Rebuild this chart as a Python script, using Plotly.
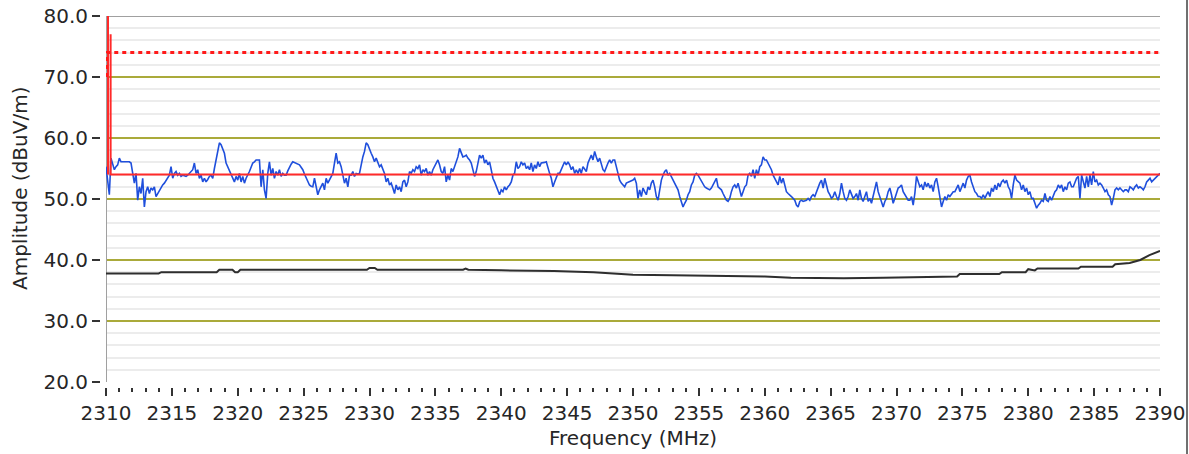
import numpy as np
import plotly.graph_objects as go

# Sweep span (MHz)
f_start, f_stop = 2310, 2390

# Measured emission trace (dBuV/m), one uniform sweep split into four spans
amp_2310_2330 = [
    55.3, 53.4, 50.7, 56.7, 55.9, 54.8, 55.3, 55.6, 56.7, 56.1,
    56.1, 56.1, 56.1, 56.1, 56.1, 55.9, 54.2, 52.6, 54.2, 49.8,
    52.0, 50.9, 53.4, 48.7, 51.2, 52.0, 50.9, 51.8, 51.5, 52.0,
    50.4, 50.9, 51.2, 51.8, 52.3, 52.6, 53.1, 53.4, 53.9, 55.3,
    53.4, 54.2, 54.5, 53.9, 54.2, 53.7, 53.9, 53.8, 53.7, 53.9,
    54.2, 54.5, 54.8, 55.9, 54.2, 54.8, 53.4, 53.9, 52.8, 53.4,
    52.8, 53.2, 53.7, 53.9, 53.4, 55.0, 56.4, 57.8, 59.2, 58.9,
    58.3, 57.5, 55.9, 55.3, 54.8, 54.1, 53.4, 52.8, 53.7, 53.1,
    54.2, 52.8, 53.7, 52.6, 53.4, 53.9, 54.5, 55.2, 55.9, 56.1,
    56.4, 56.4, 56.4, 52.0, 54.8, 51.5, 50.1, 54.2, 56.1, 53.9,
    55.0, 53.4, 54.5, 53.9, 54.8, 53.7, 54.2, 53.9, 53.9, 54.6,
    55.3, 55.7, 56.1, 56.0, 55.9, 55.7, 55.6, 55.2, 54.8, 54.1,
    53.4, 52.8, 52.3, 52.1, 52.0, 53.4, 52.0, 50.7, 51.5, 52.0,
    52.6, 51.5, 53.4, 52.6, 53.1, 53.7, 54.2, 55.9, 57.5, 55.9,
    56.1, 55.3, 54.2, 52.6, 53.4, 52.0, 53.9, 53.9, 54.5, 53.7,
    54.2, 54.1, 54.2, 55.9, 56.9, 57.8, 59.2, 58.9,
]
amp_2330_2350 = [
    58.0, 57.5, 56.9, 56.1, 56.7, 55.9, 55.3, 55.6, 54.8, 54.2,
    52.8, 53.4, 52.3, 52.6, 51.8, 50.9, 52.3, 51.5, 52.0, 51.2,
    52.8, 53.1, 52.0, 52.8, 54.5, 54.2, 54.8, 54.5, 55.3, 55.0,
    55.6, 53.9, 54.8, 54.5, 55.0, 53.9, 54.5, 53.9, 54.8, 55.3,
    55.9, 56.4, 55.6, 54.5, 54.2, 55.3, 52.8, 53.9, 53.1, 55.0,
    54.5, 55.2, 55.9, 56.9, 58.3, 57.5, 56.9, 57.0, 57.2, 56.7,
    56.4, 55.9, 54.5, 53.7, 54.5, 55.9, 57.2, 56.7, 57.2, 55.9,
    56.4, 55.6, 56.1, 54.8, 53.4, 52.8, 52.0, 51.5, 50.7, 51.5,
    51.2, 52.0, 51.5, 52.0, 52.3, 52.8, 53.9, 54.2, 56.1, 55.0,
    55.3, 56.1, 55.6, 55.9, 55.0, 55.3, 54.8, 55.9, 54.5, 55.6,
    55.0, 56.1, 55.3, 55.9, 55.9, 56.0, 56.1, 55.0, 54.2, 53.4,
    52.0, 52.8, 53.7, 54.2, 54.2, 54.8, 55.3, 56.1, 55.6, 56.1,
    55.6, 54.8, 55.3, 54.2, 54.8, 54.2, 55.0, 54.2, 55.3, 54.8,
    54.5, 55.9, 56.7, 57.2, 56.4, 57.8, 56.9, 56.1, 56.7, 55.6,
    54.8, 54.5, 55.3, 55.9, 56.4, 55.9, 56.4, 56.4, 55.3, 54.2,
    53.1, 52.6, 52.3, 52.0, 52.6, 52.7, 52.8, 53.0, 53.1, 53.4,
    52.6, 50.1,
]
amp_2350_2371 = [
    51.5, 50.4, 51.8, 51.2, 50.7, 52.0, 51.5, 52.6, 53.1, 52.0,
    50.4, 49.8, 51.5, 53.1, 53.9, 54.5, 54.8, 53.9, 54.2, 53.7,
    53.1, 52.6, 52.0, 51.5, 50.4, 49.6, 48.7, 49.3, 49.8, 50.7,
    51.2, 52.3, 52.8, 53.9, 54.2, 53.9, 53.4, 52.8, 52.3, 52.0,
    51.8, 51.6, 51.5, 51.8, 52.3, 52.8, 53.4, 52.0, 51.8, 51.5,
    50.9, 50.4, 49.8, 49.6, 50.1, 51.2, 52.0, 52.3, 51.8, 52.6,
    51.2, 50.4, 51.2, 52.0, 52.3, 53.9, 54.2, 53.7, 54.8, 53.4,
    54.8, 53.9, 55.3, 55.6, 56.9, 56.4, 56.4, 55.9, 55.3, 54.8,
    53.9, 53.4, 52.8, 52.3, 53.7, 52.6, 53.4, 52.0, 51.2, 50.9,
    50.7, 50.4, 50.1, 49.8, 49.0, 48.7, 49.6, 49.8, 49.6, 49.7,
    49.8, 50.1, 49.8, 50.4, 50.7, 50.4, 51.2, 51.8, 52.6, 53.1,
    51.8, 53.4, 52.0, 51.2, 50.7, 50.1, 50.4, 51.2, 50.4, 49.8,
    50.9, 52.6, 51.2, 50.1, 49.8, 50.4, 51.5, 50.7, 50.1, 50.4,
    50.9, 49.8, 51.5, 50.1, 49.6, 50.4, 51.2, 49.6, 50.1, 49.3,
    50.4, 51.2, 52.8, 51.2, 50.4, 49.6, 48.7, 49.6, 50.1, 51.2,
    51.8, 50.7, 49.3, 50.1, 50.9, 51.8, 52.0, 52.3, 51.2, 50.7,
    50.1, 49.8,
]
amp_2371_2390 = [
    49.8, 50.4, 49.0, 50.9, 53.7, 52.8, 52.0, 52.3, 51.5, 52.8,
    52.0, 52.6, 51.8, 52.3, 51.2, 52.8, 53.4, 52.0, 50.4, 48.7,
    49.6, 50.4, 49.8, 50.7, 50.4, 50.9, 51.2, 51.2, 51.8, 52.3,
    51.2, 52.0, 52.6, 51.8, 53.1, 53.7, 53.9, 52.8, 52.0, 51.2,
    50.9, 50.4, 50.4, 50.1, 50.7, 50.1, 50.7, 51.2, 50.4, 51.8,
    51.2, 52.3, 51.5, 52.6, 52.0, 52.8, 53.1, 52.6, 53.1, 52.0,
    51.5, 50.1, 52.3, 53.9, 53.1, 52.8, 52.6, 51.5, 52.3, 51.2,
    51.8, 50.7, 51.2, 50.1, 50.1, 49.3, 48.5, 49.0, 49.3, 49.8,
    49.6, 50.9, 49.8, 49.6, 50.4, 49.8, 50.7, 51.2, 51.5, 52.3,
    51.8, 52.3, 51.2, 52.0, 51.5, 52.6, 52.8, 52.0, 52.0, 52.6,
    53.4, 53.7, 50.1, 53.9, 52.6, 51.8, 53.7, 52.0, 53.9, 52.3,
    54.5, 52.8, 53.1, 52.3, 52.6, 52.3, 51.8, 51.2, 51.5, 50.7,
    50.4, 49.0, 50.1, 51.5, 51.8, 51.5, 51.8, 51.5, 51.2, 51.5,
    51.5, 51.2, 52.0, 51.8, 51.5, 52.0, 52.3, 51.8, 52.0, 51.8,
    51.5, 52.0, 52.8, 53.1, 53.4, 52.8, 53.1, 53.4, 53.7, 53.9,
    54.2,
]
blue_amp = amp_2310_2330 + amp_2330_2350 + amp_2350_2371 + amp_2371_2390
blue_freq = np.linspace(f_start, f_stop, len(blue_amp))

# Noise floor trace (MHz, dBuV/m)
floor_freq = [2310.0, 2314.0, 2314.2, 2318.4, 2318.6, 2319.6, 2319.8, 2320.0,
              2320.2, 2329.8, 2330.0, 2330.4, 2330.6, 2337.1, 2337.3, 2337.5,
              2340.0, 2344.0, 2347.0, 2350.0, 2353.0, 2357.0, 2360.0, 2362.0,
              2366.0, 2369.0, 2372.0, 2374.6, 2374.8, 2377.8, 2378.0, 2379.8,
              2380.0, 2380.5, 2380.7, 2383.8, 2384.0, 2386.4, 2386.6, 2387.7,
              2388.5, 2389.2, 2390.0]
floor_amp = [37.8, 37.8, 38.0, 38.0, 38.4, 38.4, 38.0, 38.0,
             38.4, 38.4, 38.7, 38.7, 38.4, 38.4, 38.6, 38.4,
             38.3, 38.2, 38.0, 37.6, 37.5, 37.4, 37.3, 37.1,
             37.0, 37.1, 37.2, 37.3, 37.7, 37.7, 38.0, 38.0,
             38.5, 38.3, 38.6, 38.6, 38.9, 38.9, 39.3, 39.5,
             40.0, 40.8, 41.5]

# Limit lines (average limit with band-edge step, peak limit)
avg_limit_freq = [2310.15, 2310.15, None, 2310.35, 2310.35, 2390.0]
avg_limit_amp = [80.0, 54.0, None, 77.0, 54.0, 54.0]
peak_limit_freq = [2310.05, 2310.05, 2390.0]
peak_limit_amp = [70.0, 74.0, 74.0]

# Axis scales
y_min, y_max = 20, 80
major_levels = [30, 40, 50, 60, 70]

W, H = 1189, 454
ML, MR, MT, MB = 100, 29, 16, 67
PW, PH = W - ML - MR, H - MT - MB
GAP = 6  # detached ticks

FONT = "DejaVu Sans"
TXT = "#262626"

fig = go.Figure()
fig.add_trace(go.Scatter(x=floor_freq, y=floor_amp, mode="lines",
                         line=dict(color="#2e2e2e", width=2), hoverinfo="skip"))
fig.add_trace(go.Scatter(x=blue_freq, y=blue_amp, mode="lines",
                         line=dict(color="#1f4fdc", width=1.6), hoverinfo="skip"))
fig.add_trace(go.Scatter(x=avg_limit_freq, y=avg_limit_amp, mode="lines",
                         line=dict(color="#ff2a2a", width=2), hoverinfo="skip"))
fig.add_trace(go.Scatter(x=peak_limit_freq, y=peak_limit_amp, mode="lines",
                         line=dict(color="#ff1a1a", width=3, dash="4px,4px"),
                         hoverinfo="skip"))

shapes = []
for lv in major_levels:
    shapes.append(dict(type="line", xref="x", yref="y", x0=f_start, x1=f_stop,
                       y0=lv, y1=lv, layer="between",
                       line=dict(color="#aaaa3a", width=2)))
# plot frame: top edge and left edge
shapes.append(dict(type="line", xref="x", yref="y", x0=f_start, x1=f_stop,
                   y0=y_max, y1=y_max, layer="between",
                   line=dict(color="#a0a0a0", width=2)))
shapes.append(dict(type="line", xref="x", yref="y", x0=f_start, x1=f_start,
                   y0=y_min, y1=y_max, layer="between",
                   line=dict(color="#a0a0a0", width=2)))
# outer panel border on the right
bx = (1187 - ML) / PW
shapes.append(dict(type="line", xref="paper", yref="paper", x0=bx, x1=bx,
                   y0=(PH + MT - H) / PH - 0.01, y1=(PH + MT) / PH + 0.01,
                   line=dict(color="#707070", width=2)))

fig.update_layout(
    width=W, height=H,
    margin=dict(l=ML, r=MR, t=MT, b=MB, pad=0, autoexpand=False),
    paper_bgcolor="white", plot_bgcolor="white",
    showlegend=False,
    font=dict(family=FONT, size=20, color=TXT),
    shapes=shapes,
    xaxis=dict(
        domain=[GAP / PW, 1], range=[f_start, f_stop],
        anchor="free", position=0, automargin=False,
        tickmode="linear", tick0=f_start, dtick=5,
        ticks="outside", ticklen=8, tickwidth=2, tickcolor="#333333",
        showgrid=False, zeroline=False, showline=False,
        tickfont=dict(family=FONT, size=20, color=TXT),
        minor=dict(dtick=1, tick0=f_start, ticks="outside", ticklen=4,
                   tickwidth=2, tickcolor="#333333", showgrid=False),
    ),
    yaxis=dict(
        domain=[5 / PH, 1], range=[y_min, y_max],
        anchor="free", position=0, automargin=False,
        tickmode="linear", tick0=y_min, dtick=10, tickformat=".1f",
        ticks="outside", ticklen=8, tickwidth=2, tickcolor="#333333",
        showgrid=False, zeroline=False, showline=False,
        tickfont=dict(family=FONT, size=20, color=TXT),
        minor=dict(dtick=2, tick0=y_min, ticks="", showgrid=True,
                   gridcolor="#ececec", gridwidth=2),
    ),
    annotations=[
        dict(text="Frequency (MHz)", xref="paper", yref="paper",
             x=(633 - ML) / PW, y=-(438 - MT - PH) / PH,
             xanchor="center", yanchor="middle", showarrow=False,
             font=dict(family=FONT, size=20, color=TXT)),
        dict(text="Amplitude (dBuV/m)", xref="paper", yref="paper",
             x=(20 - ML) / PW, y=(MT + PH - 189) / PH, textangle=-90,
             xanchor="center", yanchor="middle", showarrow=False,
             font=dict(family=FONT, size=20, color=TXT)),
    ],
)

fig.write_html("out.html")
